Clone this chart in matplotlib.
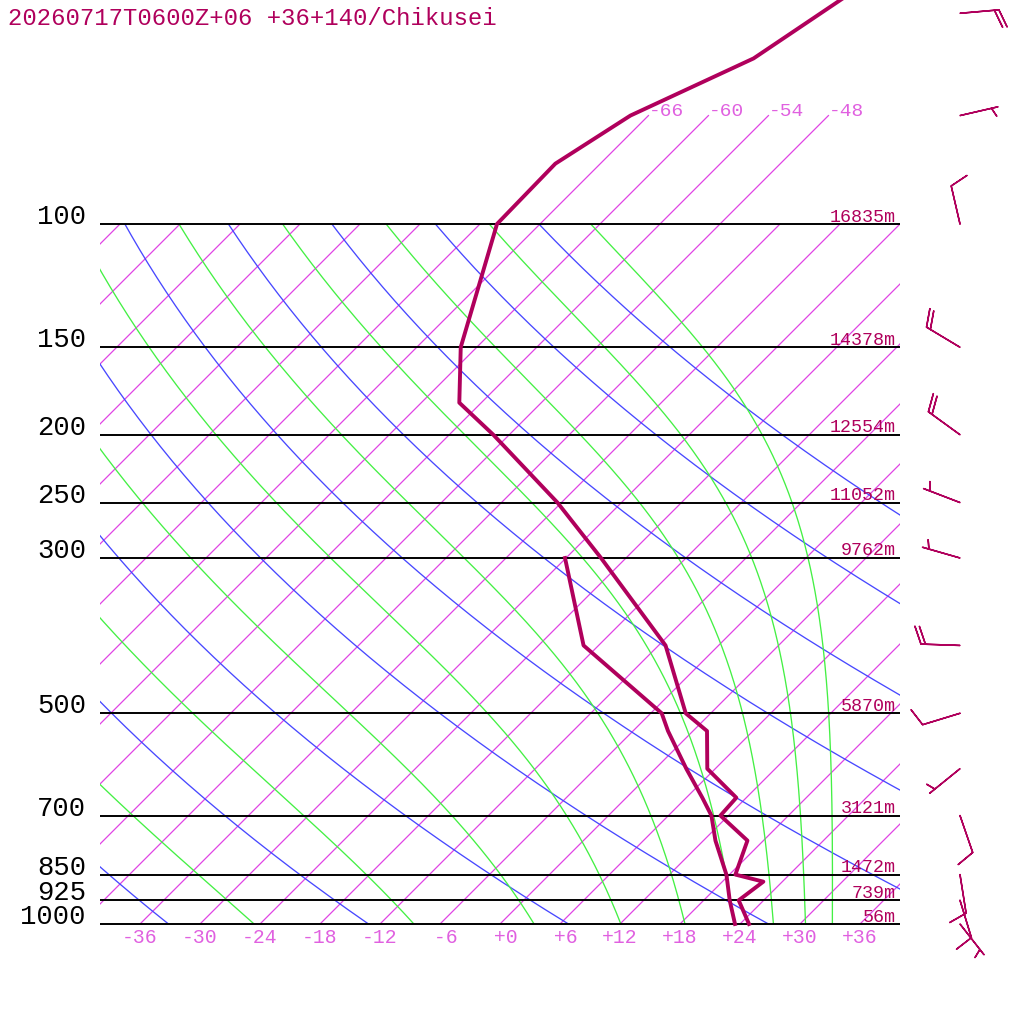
#!/usr/bin/env python3
"""Skew-T log-p sounding for Chikusei (+36+140), 2026-07-17 06Z +06h."""
import numpy as np
import matplotlib
matplotlib.use("Agg")
import matplotlib.pyplot as plt
from matplotlib.patches import Rectangle
from matplotlib.transforms import Bbox, TransformedBbox

# ---- sounding (hPa, degC) ----
pres = [1000, 925, 870, 850, 760, 700, 660, 600, 530, 500, 400, 300,
        250, 200, 180, 150, 100, 82, 70, 58, 40]
temp = [24.9, 21.5, 22.1, 18.6, 16.4, 11.2, 11.0, 5.2, 1.4, -2.5, -11.3, -26.5,
        -36.4, -49.6, -56.2, -61.6, -70.3, -70.5, -67.8, -61.2, -55.7]
dew_pres = [1000, 925, 870, 850, 760, 700, 660, 600, 530, 500, 400, 300]
dewp = [23.5, 20.6, 18.5, 17.7, 13.2, 10.3, 7.6, 3.1, -2.5, -4.9, -19.5, -30.1]

# ---- winds (deg, kt) ----
wind_pres = [1000, 925, 850, 700, 600, 500, 400, 300, 250, 200, 150, 100, 70, 50]
wind_dir = [142, 163, 171, 161, 231, 253, 272, 286, 291, 306, 301, 347, 77, 85]
wind_spd = [5, 10, 10, 10, 5, 10, 20, 5, 5, 20, 20, 10, 5, 20]

# ---- standard levels and geopotential heights ----
levels = [1000, 925, 850, 700, 500, 300, 250, 200, 150, 100]
heights = ["56m", "739m", "1472m", "3121m", "5870m", "9762m",
           "11052m", "12554m", "14378m", "16835m"]

# ---- background grid ----
iso_temps = list(range(-108, 37, 6))
iso_upper = [-66, -60, -54, -48]          # isotherms carried up to 70 hPa
iso_ticks = [-36, -30, -24, -18, -12, -6, 0, 6, 12, 18, 24, 30, 36]
theta_dry = [240, 260, 280, 300, 320, 340, 360, 380, 400]
theta_moist = [250, 270, 290, 310, 330, 350, 370, 390, 410]

C_CURVE = "#b0005c"
C_ISO = "#e044e4"
C_ISOTXT = "#e060e0"
C_BLUE = "#4848ff"
C_GREEN = "#44f044"
FONT = "Liberation Mono"


def skx(t, p):
    return np.asarray(t, float) + 70.0 * np.log10(1000.0 / np.asarray(p, float))


def theta_e_sat(tk, p):
    tc = tk - 273.15
    es = 6.112 * np.exp(17.67 * tc / (tc + 243.5))
    r = 622.0 * es / (p - es)
    with np.errstate(over="ignore"):
        return (tk * (1000.0 / p) ** (0.2854 * (1 - 0.00028 * r))
                * np.exp((3.376 / tk - 0.00254) * r * (1 + 0.00081 * r)))


def moist_T(the, p):
    lo = np.full_like(p, 150.0)
    hi = np.full_like(p, 315.0)
    for _ in range(60):
        mid = 0.5 * (lo + hi)
        big = theta_e_sat(mid, p) > the
        hi = np.where(big, mid, hi)
        lo = np.where(big, lo, mid)
    return 0.5 * (lo + hi) - 273.15


fig = plt.figure(figsize=(10.24, 10.24), dpi=100)
ax = fig.add_axes([0, 0, 1, 1])
ax.set_yscale("log")
ax.set_xlim(-50, 52.4)
ax.set_ylim(10 ** (2 + 800 / 700), 10 ** (2 - 224 / 700))
ax.axis("off")

box = Rectangle((-40, 100), 80, 900, transform=ax.transData, fill=False, visible=False)
box_hi = Rectangle((-40, 60), 80, 940, transform=ax.transData, fill=False, visible=False)
ax.add_patch(box)
ax.add_patch(box_hi)
txt_clip = TransformedBbox(Bbox([[-40, 1000], [40, 60]]), ax.transData)

pgrid = np.logspace(3, 2, 300)


def theta_label(th, t100, color):
    x = skx(t100, 100)
    if x < -43:          # label lies wholly left of the frame
        return
    tx = ax.annotate(str(th), (x, 100), xytext=(0, 4.3),
                     textcoords="offset points", color=color, fontsize=12.3,
                     family=FONT, ha="left", va="baseline")
    tx.set_clip_box(txt_clip)
    tx.set_clip_on(True)


# isotherms
for t in iso_temps:
    ptop = 70 if t in iso_upper else 100
    pp = np.array([1000.0, ptop])
    ln, = ax.plot(skx([t, t], pp), pp, color=C_ISO, lw=0.9)
    ln.set_clip_path(box_hi)
for t in iso_upper:
    ax.text(skx(t, 70), 70, f"{t:+d}", color=C_ISOTXT,
            fontsize=14, family=FONT, ha="left", va="baseline")

# dry adiabats
for th in theta_dry:
    tt = th * (pgrid / 1000.0) ** 0.286 - 273.15
    ln, = ax.plot(skx(tt, pgrid), pgrid, color=C_BLUE, lw=0.95)
    ln.set_clip_path(box)
    theta_label(th, tt[-1], C_BLUE)

# moist adiabats
for th in theta_moist:
    tt = moist_T(th, pgrid)
    ln, = ax.plot(skx(tt, pgrid), pgrid, color=C_GREEN, lw=0.95)
    ln.set_clip_path(box)
    theta_label(th, tt[-1], C_GREEN)

# pressure levels
ax.hlines(levels, -40, 40, colors="black", lw=1.4)
for p, h in zip(levels, heights):
    ax.text(-41.4, p, str(p), ha="right", va="baseline", fontsize=19.6,
            family=FONT, color="black")
    ax.annotate(h, (39.6, p), xytext=(0, 1.8), textcoords="offset points",
                ha="right", va="baseline", fontsize=13.2, family=FONT, color=C_CURVE)

# bottom temperature ticks
for t in iso_ticks:
    ax.annotate(f"{t:+3d}", (skx(t, 1000), 1000), xytext=(0, -13.7),
                textcoords="offset points", ha="center", va="baseline",
                fontsize=14.2, family=FONT, color=C_ISOTXT)

# sounding curves
ax.plot(skx(dewp, dew_pres), dew_pres, color=C_CURVE, lw=2.8)
ax.plot(skx(temp, pres), pres, color=C_CURVE, lw=2.8)

# wind barbs
wd = np.radians(wind_dir)
spd = np.asarray(wind_spd, float)
u = -spd * np.sin(wd)
v = -spd * np.cos(wd)
ax.barbs(np.full(len(wind_pres), 46.0), wind_pres, u, v, length=7.5,
         sizes=dict(spacing=0.115, height=0.45, width=0.34),
         barbcolor=C_CURVE, flagcolor=C_CURVE, linewidth=1.1)

fig.text(8.5 / 1024, 1 - 25 / 1024, "20260717T0600Z+06 +36+140/Chikusei",
         ha="left", va="baseline", fontsize=17.2, family=FONT, color=C_CURVE)

fig.savefig("out.png", dpi=100)
